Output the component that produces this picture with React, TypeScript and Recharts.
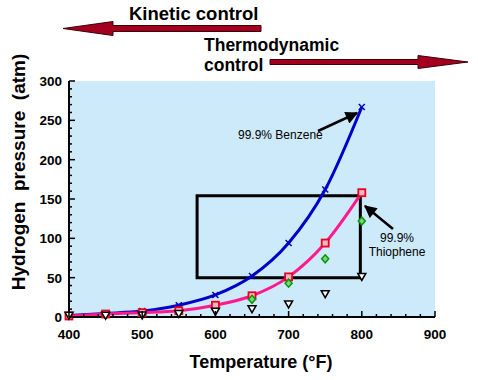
import {
  ComposedChart,
  Line,
  XAxis,
  YAxis,
  CartesianGrid,
  ReferenceArea,
} from "recharts";

const temps = [400, 450, 500, 550, 600, 650, 700, 750, 800];
const benzene = [2, 4.5, 7.5, 15, 28, 52, 94, 162, 267];
const thiophene = [1.3, 3.8, 5.5, 8, 15, 27, 51, 94, 158];
const greenPts = [null, null, null, null, null, 22.5, 43, 74, 122];
const trianglePts = [1.5, 1.5, 2, 3.8, 6.7, 10, 16, 29, 51];

const xLabels = [400, 500, 600, 700, 800, 900];
const yLabels = [0, 50, 100, 150, 200, 250, 300];
const xTicks = Array.from({ length: 26 }, (_, i) => 400 + i * 20);
const yTicks = Array.from({ length: 31 }, (_, i) => i * 10);

const rows = temps.map((t, i) => ({
  t,
  benzene: benzene[i],
  thiophene: thiophene[i],
  green: greenPts[i],
  tri: trianglePts[i],
}));

const FONT = "'Liberation Sans', Arial, Helvetica, sans-serif";
const BLUE = "#0000c8";
const PINK = "#ff1a8c";
const DARKRED = "#a3001f";

const BottomTick = (props: any) => {
  const { x, y, payload } = props;
  const major = xLabels.includes(payload.value);
  return (
    <g>
      <line x1={x} x2={x} y1={y} y2={y - (major ? 6 : 3)} stroke="#000" strokeWidth={1.5} />
      {major && (
        <text x={x} y={y + 22} textAnchor="middle" fontSize={13.5} fontWeight="bold" fontFamily={FONT} fill="#000">
          {payload.value}
        </text>
      )}
    </g>
  );
};

const TopTick = (props: any) => {
  const { x, y, payload } = props;
  const major = xLabels.includes(payload.value);
  return <line x1={x} x2={x} y1={y} y2={y + (major ? 6 : 3)} stroke="#000" strokeWidth={1.5} />;
};

const LeftTick = (props: any) => {
  const { x, y, payload } = props;
  const major = yLabels.includes(payload.value);
  return (
    <g>
      <line x1={x} x2={x + (major ? 6 : 3)} y1={y} y2={y} stroke="#000" strokeWidth={1.5} />
      {major && (
        <text x={x - 7} y={y + 5} textAnchor="end" fontSize={13.5} fontWeight="bold" fontFamily={FONT} fill="#000">
          {payload.value}
        </text>
      )}
    </g>
  );
};

const RightTick = (props: any) => {
  const { x, y, payload } = props;
  const major = yLabels.includes(payload.value);
  return <line x1={x} x2={x - (major ? 6 : 3)} y1={y} y2={y} stroke="#000" strokeWidth={1.5} />;
};

const XDot = (props: any) => {
  const { cx, cy } = props;
  if (cx == null || cy == null) return <g />;
  const s = 3;
  return (
    <g stroke={BLUE} strokeWidth={1.5}>
      <line x1={cx - s} y1={cy - s} x2={cx + s} y2={cy + s} />
      <line x1={cx - s} y1={cy + s} x2={cx + s} y2={cy - s} />
    </g>
  );
};

const SquareDot = (props: any) => {
  const { cx, cy } = props;
  if (cx == null || cy == null) return <g />;
  return <rect x={cx - 3.5} y={cy - 3.5} width={7} height={7} fill="#ffb3c6" stroke="#e8001c" strokeWidth={1.8} />;
};

const DiamondDot = (props: any) => {
  const { cx, cy } = props;
  if (cx == null || cy == null) return <g />;
  return (
    <polygon
      points={`${cx},${cy - 4} ${cx + 3.5},${cy} ${cx},${cy + 4} ${cx - 3.5},${cy}`}
      fill="#7fd27f"
      stroke="#009a00"
      strokeWidth={1.5}
    />
  );
};

const TriangleDot = (props: any) => {
  const { cx, cy } = props;
  if (cx == null || cy == null) return <g />;
  return (
    <polygon
      points={`${cx - 4},${cy - 3.5} ${cx + 4},${cy - 3.5} ${cx},${cy + 3.5}`}
      fill="#fff"
      stroke="#000"
      strokeWidth={1.5}
    />
  );
};

function Overlay() {
  return (
    <svg
      width={478}
      height={380}
      style={{ position: "absolute", left: 0, top: 0, pointerEvents: "none" }}
      fontFamily={FONT}
    >
      <defs>
        <marker id="head" viewBox="0 0 10 10" refX="9" refY="5" markerWidth="6" markerHeight="5" orient="auto">
          <path d="M0,0 L10,5 L0,10 z" fill="#000" />
        </marker>
      </defs>
      {/* process regime arrows */}
      <polygon
        points="261,25.5 113,25.5 113,21.5 63,28.5 113,35.5 113,31.5 261,31.5"
        fill={DARKRED}
        stroke="#3a0008"
        strokeWidth={1}
      />
      <text x={129} y={20} fontSize={18.5} fontWeight="bold" fill="#000">
        Kinetic control
      </text>
      <polygon
        points="270,59.5 418,59.5 418,55.5 468,62 418,68.5 418,64.5 270,64.5"
        fill={DARKRED}
        stroke="#3a0008"
        strokeWidth={1}
      />
      <text x={204} y={51} fontSize={17.5} fontWeight="bold" fill="#000">
        Thermodynamic
      </text>
      <text x={204} y={71} fontSize={17.5} fontWeight="bold" fill="#000">
        control
      </text>

      {/* annotations */}
      <line x1={318} y1={131} x2={357} y2={113} stroke="#000" strokeWidth={2.5} markerEnd="url(#head)" />
      <text x={238} y={139} fontSize={12} fill="#000">
        99.9% Benzene
      </text>
      <line x1={393} y1={229} x2={365} y2={206} stroke="#000" strokeWidth={2.5} markerEnd="url(#head)" />
      <text x={397} y={242} fontSize={12} textAnchor="middle" fill="#000">
        99.9%
      </text>
      <text x={397} y={256} fontSize={12} textAnchor="middle" fill="#000">
        Thiophene
      </text>

      {/* axis titles */}
      <text x={261} y={368} fontSize={18} fontWeight="bold" textAnchor="middle" fill="#000">
        Temperature (°F)
      </text>
      <text
        transform="translate(25,172) rotate(-90)"
        fontSize={19}
        fontWeight="bold"
        textAnchor="middle"
        fill="#000"
        style={{ whiteSpace: "pre" }}
      >
        {"Hydrogen  pressure  (atm)"}
      </text>
    </svg>
  );
}

export default function App() {
  return (
    <div style={{ position: "absolute", left: 0, top: 0, width: 478, height: 380, background: "#fff" }}>
      <ComposedChart width={478} height={380} data={rows} margin={{ top: 81, right: 43, bottom: 0, left: 0 }}>
        <CartesianGrid fill="#cdeafb" stroke="none" horizontal={false} vertical={false} />
        <XAxis
          dataKey="t"
          type="number"
          domain={[400, 900]}
          ticks={xTicks}
          interval={0}
          height={63}
          tickSize={0}
          tickMargin={0}
          tickLine={false}
          axisLine={{ stroke: "#000", strokeWidth: 2 }}
          tick={<BottomTick />}
        />
        <XAxis
          xAxisId="top"
          orientation="top"
          dataKey="t"
          type="number"
          domain={[400, 900]}
          ticks={xTicks}
          interval={0}
          height={0}
          tickSize={0}
          tickMargin={0}
          tickLine={false}
          axisLine={{ stroke: "#000", strokeWidth: 2 }}
          tick={<TopTick />}
        />
        <YAxis
          type="number"
          domain={[0, 300]}
          ticks={yTicks}
          interval={0}
          width={69}
          tickSize={0}
          tickMargin={0}
          tickLine={false}
          axisLine={{ stroke: "#000", strokeWidth: 2 }}
          tick={<LeftTick />}
        />
        <YAxis
          yAxisId="right"
          orientation="right"
          type="number"
          domain={[0, 300]}
          ticks={yTicks}
          interval={0}
          width={0}
          tickSize={0}
          tickMargin={0}
          tickLine={false}
          axisLine={{ stroke: "#000", strokeWidth: 2 }}
          tick={<RightTick />}
        />
        <ReferenceArea x1={575} x2={798} y1={50} y2={154} fill="none" fillOpacity={0} stroke="#000" strokeWidth={3} />
        <Line dataKey="benzene" type="monotone" stroke={BLUE} strokeWidth={3} dot={<XDot />} isAnimationActive={false} />
        <Line dataKey="thiophene" type="monotone" stroke={PINK} strokeWidth={3} dot={<SquareDot />} isAnimationActive={false} />
        <Line dataKey="green" stroke="none" dot={<DiamondDot />} isAnimationActive={false} />
        <Line dataKey="tri" stroke="none" dot={<TriangleDot />} isAnimationActive={false} />
      </ComposedChart>
      <Overlay />
    </div>
  );
}
